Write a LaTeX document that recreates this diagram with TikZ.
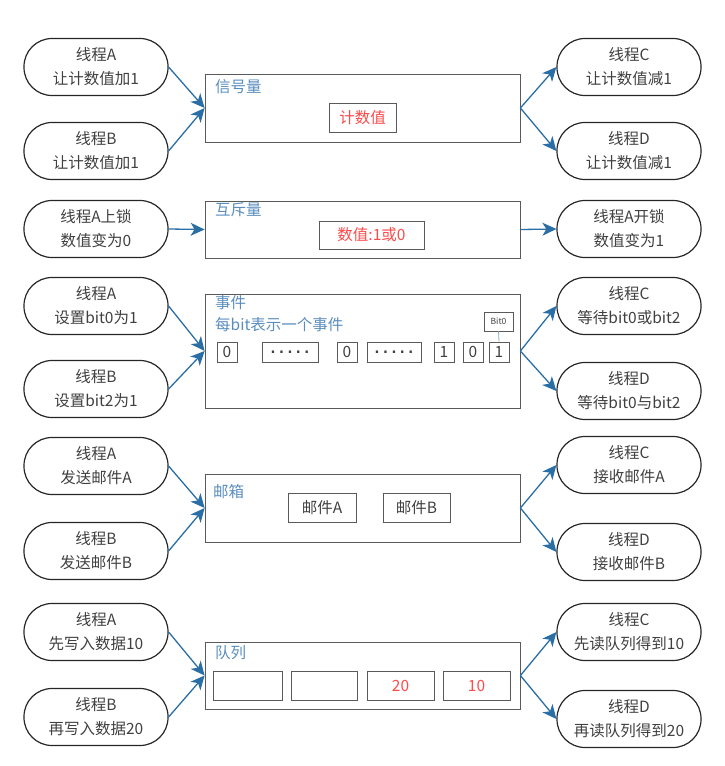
\documentclass[tikz,border=0pt]{standalone}
\usepackage{fontspec}
\usepackage{tikz}
\usetikzlibrary{arrows.meta,shapes}
\newfontfamily\cjk{Noto Sans CJK SC}
\newfontfamily\dotfont{DejaVu Sans Mono}
\newcommand{\thrw}{144pt}
\newcommand{\thrh}{57pt}
\definecolor{arrowblue}{HTML}{2A6EA6}
\definecolor{titleblue}{HTML}{5A8DBE}
\definecolor{valred}{HTML}{FF4A4A}
\definecolor{textgray}{HTML}{404040}
\definecolor{boxgray}{HTML}{5A5A5A}

\begin{document}
\begin{tikzpicture}[x=1pt,y=-1pt,
    threadbox/.style={draw=black!85, line width=1.2pt, rounded corners=28pt, minimum width=\thrw, minimum height=\thrh, inner sep=0pt, align=center, text=textgray, font=\cjk\fontsize{15.5}{24}\selectfont},
    poolbox/.style={draw=boxgray, line width=0.8pt, minimum width=315pt, inner sep=0pt},
    pooltitle/.style={anchor=west, inner sep=0pt, text=titleblue, font=\cjk\fontsize{15.5}{19}\selectfont},
    cellbox/.style={draw=boxgray, line width=0.8pt, inner sep=0pt, text=textgray, font=\cjk\fontsize{15.5}{19}\selectfont},
    valbox/.style={cellbox, text=valred},
    dotbox/.style={cellbox, font=\dotfont\bfseries\fontsize{14}{16}\selectfont},
    flow/.style={draw=arrowblue, line width=1.3pt, -{Stealth[length=14pt,width=13pt,inset=4pt]}}]
    %\draw[help lines] (0,0) grid (725,766);
    \useasboundingbox (0,0) rectangle (725,766);

    % semaphore
    \node[poolbox, minimum height=68pt] (sem) at (362.5,108) {};
    \node[pooltitle] (semt) at (215,87) {信号量};
    \node[valbox, minimum width=67pt, minimum height=29pt] (semv) at (362.5,117.5) {计数值};
    \node[threadbox] (semA) at (96,67) {线程A\\让计数值加1};
    \node[threadbox] (semB) at (96,151) {线程B\\让计数值加1};
    \node[threadbox] (semC) at (629,67) {线程C\\让计数值减1};
    \node[threadbox] (semD) at (629,151) {线程D\\让计数值减1};
    \draw[flow] (semA.east) -- (sem.west);
    \draw[flow] (semB.east) -- (sem.west);
    \draw[flow] (sem.east) -- (semC.west);
    \draw[flow] (sem.east) -- (semD.west);

    % mutex
    \node[poolbox, minimum height=57pt] (mut) at (362.5,229.5) {};
    \node[pooltitle] (mutt) at (215,210) {互斥量};
    \node[valbox, minimum width=105pt, minimum height=28pt] (mutv) at (371.5,235) {数值:1或0};
    \node[threadbox] (mutA) at (96,229) {线程A上锁\\数值变为0};
    \node[threadbox] (mutB) at (629,229) {线程A开锁\\数值变为1};
    \draw[flow] (mutA.east) -- (mut.west);
    \draw[flow] (mut.east) -- (mutB.west);

    % events
    \node[poolbox, minimum height=114pt] (evt) at (362.5,351) {};
    \node[pooltitle] (evtt) at (215,303) {事件};
    \node[pooltitle] (evts) at (215,325) {每bit表示一个事件};
    \node[cellbox, minimum width=20pt, minimum height=20pt] (b1) at (227,352) {0};
    \node[dotbox, minimum width=56pt, minimum height=20pt] (b2) at (290,352) {.....};
    \node[cellbox, minimum width=20pt, minimum height=20pt] (b3) at (347,352) {0};
    \node[dotbox, minimum width=54pt, minimum height=20pt] (b4) at (394,352) {.....};
    \node[cellbox, minimum width=20pt, minimum height=20pt] (b5) at (444,352) {1};
    \node[cellbox, minimum width=20pt, minimum height=20pt] (b6) at (473,352) {0};
    \node[cellbox, minimum width=20pt, minimum height=20pt] (b7) at (499,352) {1};
    \node[cellbox, minimum width=29pt, minimum height=19pt, font=\cjk\fontsize{8.5}{10}\selectfont] (bit) at (498.5,321.5) {Bit0};
    \draw[titleblue!70, line width=0.8pt] (bit.south) -- (b7.north);
    \node[threadbox] (evtA) at (96,306) {线程A\\设置bit0为1};
    \node[threadbox] (evtB) at (96,389) {线程B\\设置bit2为1};
    \node[threadbox] (evtC) at (629,306) {线程C\\等待bit0或bit2};
    \node[threadbox] (evtD) at (629,391) {线程D\\等待bit0与bit2};
    \draw[flow] (evtA.east) -- (evt.west);
    \draw[flow] (evtB.east) -- (evt.west);
    \draw[flow] (evt.east) -- (evtC.west);
    \draw[flow] (evt.east) -- (evtD.west);

    % mailbox
    \node[poolbox, minimum height=68pt] (mbx) at (362.5,508) {};
    \node[pooltitle] (mbxt) at (213,492) {邮箱};
    \node[cellbox, minimum width=68pt, minimum height=29pt] (mA) at (322,507.5) {邮件A};
    \node[cellbox, minimum width=67pt, minimum height=29pt] (mB) at (416.5,507.5) {邮件B};
    \node[threadbox] (mbxA) at (96,466) {线程A\\发送邮件A};
    \node[threadbox] (mbxB) at (96,551) {线程B\\发送邮件B};
    \node[threadbox] (mbxC) at (629,465) {线程C\\接收邮件A};
    \node[threadbox] (mbxD) at (629,552) {线程D\\接收邮件B};
    \draw[flow] (mbxA.east) -- (mbx.west);
    \draw[flow] (mbxB.east) -- (mbx.west);
    \draw[flow] (mbx.east) -- (mbxC.west);
    \draw[flow] (mbx.east) -- (mbxD.west);

    % queue
    \node[poolbox, minimum height=67pt] (que) at (362.5,675.5) {};
    \node[pooltitle] (quet) at (215,653) {队列};
    \node[cellbox, minimum width=69pt, minimum height=29pt] (q1) at (247.5,685.5) {};
    \node[cellbox, minimum width=66pt, minimum height=29pt] (q2) at (324,685.5) {};
    \node[valbox, minimum width=67pt, minimum height=29pt] (q3) at (400.5,685.5) {20};
    \node[valbox, minimum width=67pt, minimum height=29pt] (q4) at (476.5,685.5) {10};
    \node[threadbox] (queA) at (96,632) {线程A\\先写入数据10};
    \node[threadbox] (queB) at (96,717) {线程B\\再写入数据20};
    \node[threadbox] (queC) at (629,632) {线程C\\先读队列得到10};
    \node[threadbox] (queD) at (629,719) {线程D\\再读队列得到20};
    \draw[flow] (queA.east) -- (que.west);
    \draw[flow] (queB.east) -- (que.west);
    \draw[flow] (que.east) -- (queC.west);
    \draw[flow] (que.east) -- (queD.west);
\end{tikzpicture}
\end{document}
